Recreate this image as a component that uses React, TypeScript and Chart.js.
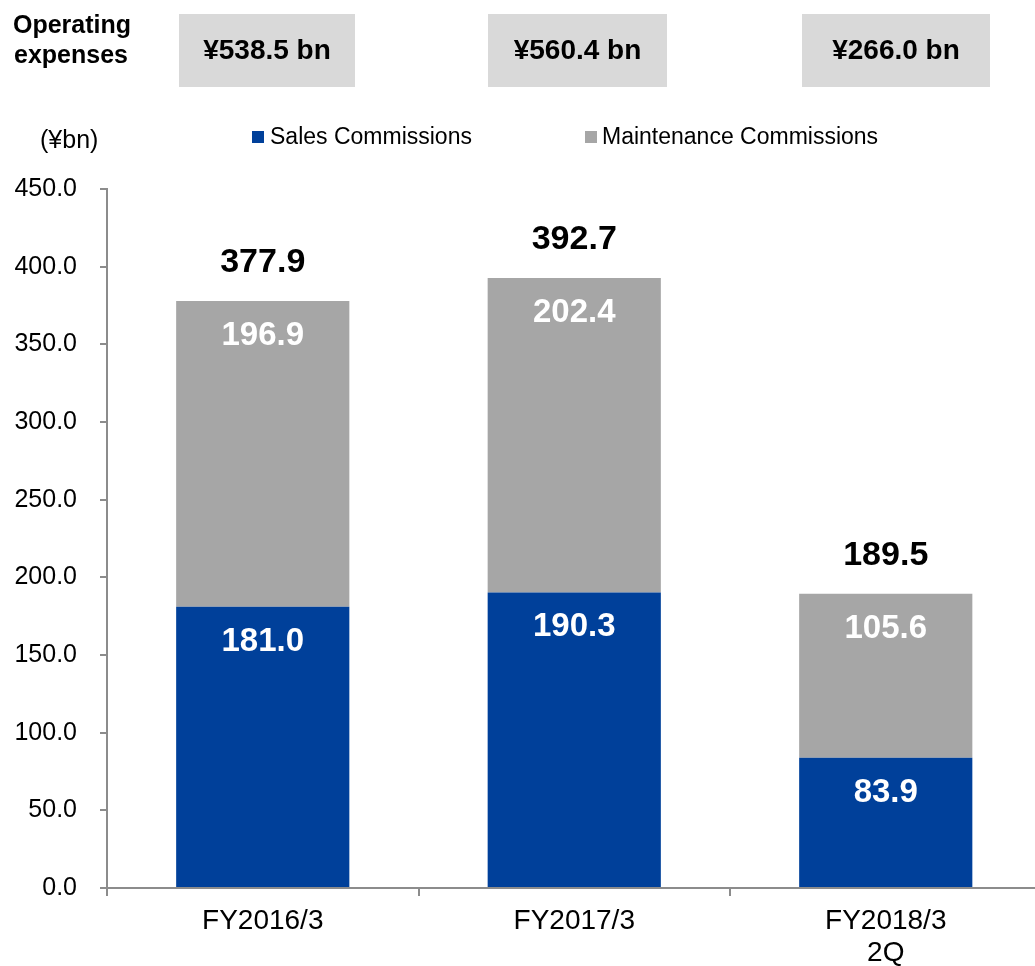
import React, { useEffect, useRef } from "react";
import { Chart, registerables } from "chart.js";

Chart.register(...registerables);

const categories: (string | string[])[] = ["FY2016/3", "FY2017/3", ["FY2018/3", "2Q"]];
const salesCommissions = [181.0, 190.3, 83.9];
const maintenanceCommissions = [196.9, 202.4, 105.6];
const totals = [377.9, 392.7, 189.5];
const operatingExpenses = ["¥538.5 bn", "¥560.4 bn", "¥266.0 bn"];
const seriesNames = ["Sales Commissions", "Maintenance Commissions"];
const yMin = 0;
const yMax = 450;
const yStep = 50;

const BLUE = "#00409A";
const GRAY = "#A6A6A6";
const BOX = "#D9D9D9";
const AXIS = "#8C8C8C";
const FONT = "'Liberation Sans', Arial, sans-serif";

const overlayPlugin = {
  id: "overlay",
  afterDatasetsDraw(chart: any) {
    const ctx = chart.ctx as CanvasRenderingContext2D;
    ctx.save();
    // Operating expenses header
    ctx.fillStyle = "#000";
    ctx.font = `bold 25px ${FONT}`;
    ctx.textAlign = "left";
    ctx.textBaseline = "alphabetic";
    ctx.fillText("Operating", 13, 33);
    ctx.fillText("expenses", 14, 63);

    const boxes = [
      [179, 14, 176, 73],
      [488, 14, 179, 73],
      [802, 14, 188, 73],
    ];
    boxes.forEach((b, i) => {
      ctx.fillStyle = BOX;
      ctx.fillRect(b[0], b[1], b[2], b[3]);
      ctx.fillStyle = "#000";
      ctx.font = `bold 28px ${FONT}`;
      ctx.textAlign = "center";
      ctx.textBaseline = "middle";
      ctx.fillText(operatingExpenses[i], b[0] + b[2] / 2, b[1] + b[3] / 2 + 1);
    });

    // unit
    ctx.textAlign = "left";
    ctx.textBaseline = "alphabetic";
    ctx.font = `25px ${FONT}`;
    ctx.fillStyle = "#000";
    ctx.fillText("(¥bn)", 40, 148);

    // legend
    ctx.font = `23px ${FONT}`;
    ctx.fillStyle = BLUE;
    ctx.fillRect(252, 131, 12, 12);
    ctx.fillStyle = "#000";
    ctx.fillText(seriesNames[0], 270, 144);
    ctx.fillStyle = GRAY;
    ctx.fillRect(585, 131, 12, 12);
    ctx.fillStyle = "#000";
    ctx.fillText(seriesNames[1], 602, 144);

    // data labels
    const m0 = chart.getDatasetMeta(0);
    const m1 = chart.getDatasetMeta(1);
    ctx.textAlign = "center";
    ctx.textBaseline = "middle";
    m0.data.forEach((bar: any, i: number) => {
      ctx.font = `bold 33px ${FONT}`;
      ctx.fillStyle = "#fff";
      ctx.fillText(salesCommissions[i].toFixed(1), bar.x, bar.y + 35);
    });
    m1.data.forEach((bar: any, i: number) => {
      ctx.font = `bold 33px ${FONT}`;
      ctx.fillStyle = "#fff";
      ctx.fillText(maintenanceCommissions[i].toFixed(1), bar.x, bar.y + 35);
      ctx.font = `bold 34px ${FONT}`;
      ctx.fillStyle = "#000";
      ctx.fillText(totals[i].toFixed(1), bar.x, bar.y - 38);
    });
    ctx.restore();
  },
};

export default function App() {
  const ref = useRef<HTMLCanvasElement | null>(null);
  useEffect(() => {
    if (!ref.current) return;
    Chart.defaults.font.family = FONT;
    const chart = new Chart(ref.current, {
      type: "bar",
      data: {
        labels: categories as any,
        datasets: [
          {
            label: seriesNames[0],
            data: salesCommissions,
            backgroundColor: BLUE,
            borderWidth: 0,
          },
          {
            label: seriesNames[1],
            data: maintenanceCommissions,
            backgroundColor: GRAY,
            borderWidth: 0,
          },
        ],
      },
      options: {
        responsive: false,
        animation: false,
        devicePixelRatio: 1,
        layout: { padding: { top: 189, left: 0, right: 3.5, bottom: 0 } },
        plugins: { legend: { display: false }, tooltip: { enabled: false } },
        datasets: { bar: { categoryPercentage: 1, barPercentage: 0.556 } },
        scales: {
          x: {
            stacked: true,
            grid: {
              display: true,
              drawOnChartArea: false,
              offset: true,
              color: AXIS,
              tickLength: 8,
              lineWidth: 2,
            },
            border: { color: AXIS, width: 2 },
            ticks: {
              color: "#000",
              font: { size: 28, lineHeight: 1.12 },
              padding: 10,
              maxRotation: 0,
              autoSkip: false,
            },
            afterFit: (s: any) => {
              s.height = 78;
            },
          },
          y: {
            stacked: true,
            min: yMin,
            max: yMax,
            grid: {
              drawOnChartArea: false,
              color: AXIS,
              tickLength: 7,
              lineWidth: 2,
            },
            border: { color: AXIS, width: 2 },
            ticks: {
              stepSize: yStep,
              color: "#000",
              font: { size: 25 },
              padding: 23,
              callback: (v: any) => Number(v).toFixed(1),
            },
            afterFit: (s: any) => {
              s.width = 107;
            },
          },
        },
      },
      plugins: [overlayPlugin],
    });
    return () => chart.destroy();
  }, []);
  return (
    <div
      style={{
        position: "fixed",
        left: 0,
        top: 0,
        width: 1035,
        height: 966,
        overflow: "hidden",
        background: "#fff",
      }}
    >
      <canvas ref={ref} width={1045} height={966} style={{ width: 1045, height: 966, display: "block" }} />
    </div>
  );
}
